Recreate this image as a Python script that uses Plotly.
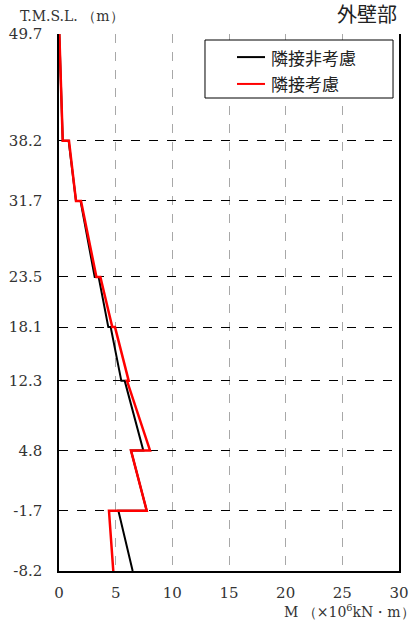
import plotly.graph_objects as go

# Elevation levels (T.M.S.L., m), top to bottom
levels = [49.7, 38.2, 31.7, 23.5, 18.1, 12.3, 4.8, -1.7, -8.2]
level_labels = ["49.7", "38.2", "31.7", "23.5", "18.1", "12.3", "4.8", "-1.7", "-8.2"]

# Bending moment (×10^6 kN·m) at the top and bottom of each storey segment
no_adj_top = [0.03, 0.85, 1.90, 3.50, 4.56, 5.80, 6.35, 5.24]
no_adj_bottom = [0.33, 1.50, 3.15, 4.35, 5.50, 7.44, 7.74, 6.50]
adj_top = [0.03, 0.88, 1.94, 3.65, 4.94, 6.00, 6.35, 4.41]
adj_bottom = [0.33, 1.50, 3.30, 4.70, 6.15, 8.03, 7.74, 4.79]

x_ticks = [0, 5, 10, 15, 20, 25, 30]

series_names = ["隣接非考慮", "隣接考慮"]
series_colors = ["black", "#ff0000"]
series_widths = [2, 2.5]


def profile(tops, bottoms):
    xs, ys = [], []
    for i in range(len(tops)):
        xs += [tops[i], bottoms[i]]
        ys += [levels[i], levels[i + 1]]
    return xs, ys


serif = "DejaVu Serif"
cjk = "Noto Sans CJK JP"

fig = go.Figure()
for (tops, bottoms), name, color, w in zip(
        [(no_adj_top, no_adj_bottom), (adj_top, adj_bottom)],
        series_names, series_colors, series_widths):
    xs, ys = profile(tops, bottoms)
    fig.add_trace(go.Scatter(x=xs, y=ys, mode="lines", name=name,
                             line=dict(color=color, width=w), showlegend=False))

# Boxed legend in the upper right of the plot area
shapes = [dict(type="rect", xref="paper", yref="paper",
               x0=0.4294, x1=0.9824, y0=0.8808, y1=0.9888,
               line=dict(color="black", width=1), fillcolor="white", layer="above")]
annotations = []
for row_y, name, color in zip([0.957, 0.907], series_names, series_colors):
    shapes.append(dict(type="line", xref="paper", yref="paper",
                       x0=0.5235, x1=0.6059, y0=row_y, y1=row_y,
                       line=dict(color=color, width=2), layer="above"))
    annotations.append(dict(text=name, xref="paper", yref="paper",
                            x=0.6176, y=row_y, xanchor="left", yanchor="middle",
                            showarrow=False,
                            font=dict(family=cjk, size=17, color="#222")))

annotations += [
    dict(text="T.M.S.L. （m）", xref="paper", yref="paper", x=-0.121, y=1.0,
         xanchor="left", yanchor="bottom", yshift=8, showarrow=False,
         font=dict(family=serif, size=14, color="#333")),
    dict(text="外壁部", xref="paper", yref="paper", x=1.0, y=1.0,
         xanchor="right", yanchor="bottom", yshift=4, showarrow=False,
         font=dict(family=cjk, size=20, color="#222")),
    dict(text="M （×10<sup>6</sup>kN・m）", xref="paper", yref="paper",
         x=1.053, y=0, xanchor="right", yanchor="top", yshift=-29,
         showarrow=False, font=dict(family=serif, size=14, color="#333")),
]

fig.update_layout(
    width=419, height=626,
    margin=dict(l=59, r=20, t=34, b=55),
    paper_bgcolor="white", plot_bgcolor="white",
    showlegend=False,
    xaxis=dict(range=[0, 30], tickvals=x_ticks, showgrid=True, automargin=False,
               gridcolor="#a8a8a8", griddash="dash", gridwidth=1,
               showline=True, linecolor="black", linewidth=1.5, mirror=False,
               zeroline=False, ticks="", ticklabelstandoff=7,
               tickfont=dict(family=serif, size=15, color="#333")),
    yaxis=dict(range=[-8.2, 49.7], tickvals=levels, ticktext=level_labels,
               showgrid=True, automargin=False,
               gridcolor="black", griddash="dash", gridwidth=1,
               showline=True, linecolor="black", linewidth=1.5, mirror=True,
               zeroline=False, ticks="", ticklabelstandoff=12,
               tickfont=dict(family=serif, size=15, color="#333")),
    shapes=shapes,
    annotations=annotations,
)

fig.write_html("out.html")
